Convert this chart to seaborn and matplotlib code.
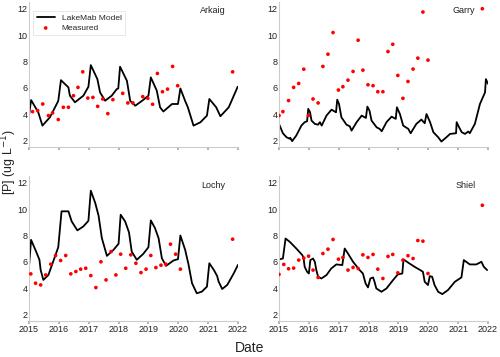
import matplotlib
matplotlib.use("Agg")
import matplotlib.pyplot as plt
import pandas as pd
import seaborn as sns

# model curves (decimal year, [P])
arkaig_model_t = [2015.0, 2015.07, 2015.31, 2015.45, 2015.70, 2015.98, 2016.07, 2016.32, 2016.37,
                  2016.54, 2016.82, 2016.99, 2017.07, 2017.29, 2017.38, 2017.55, 2017.77, 2017.94,
                  2017.99, 2018.05, 2018.28, 2018.39, 2018.56, 2018.78, 2019.0, 2019.08, 2019.28,
                  2019.39, 2019.5, 2019.79, 2019.99, 2020.07, 2020.23, 2020.32, 2020.51, 2020.74,
                  2020.96, 2021.04, 2021.27, 2021.41, 2021.69, 2021.99]
arkaig_model_p = [3.9, 5.07, 4.14, 3.13, 3.76, 5.0, 6.58, 6.03, 5.4,
                  4.9, 5.4, 6.08, 7.72, 6.66, 5.65, 5.02, 5.4, 5.9,
                  5.95, 7.6, 6.53, 5.0, 4.64, 5.0, 5.4, 6.79, 5.78,
                  4.52, 4.2, 4.77, 4.77, 5.95, 5.0, 4.52, 3.13, 3.38,
                  3.89, 5.15, 4.52, 3.84, 4.52, 6.08]

garry_model_t = [2015.0, 2015.13, 2015.25, 2015.36, 2015.38, 2015.44, 2015.58, 2015.75, 2015.86,
                 2015.94, 2015.98, 2016.04, 2016.09, 2016.2, 2016.31, 2016.37, 2016.43, 2016.59,
                 2016.76, 2016.91, 2016.95, 2017.01, 2017.09, 2017.26, 2017.37, 2017.43, 2017.60,
                 2017.77, 2017.91, 2017.96, 2018.03, 2018.1, 2018.27, 2018.37, 2018.44, 2018.6,
                 2018.77, 2018.91, 2018.95, 2019.05, 2019.16, 2019.33, 2019.41, 2019.6, 2019.77,
                 2019.88, 2019.94, 2020.06, 2020.17, 2020.33, 2020.44, 2020.61, 2020.73, 2020.93,
                 2020.95, 2021.03, 2021.12, 2021.23, 2021.34, 2021.39, 2021.56, 2021.73, 2021.90,
                 2021.93, 2022.0]
garry_model_p = [3.26, 2.55, 2.25, 2.13, 2.2, 1.95, 2.38, 3.13, 3.39,
                 3.46, 4.4, 4.14, 3.51, 3.26, 3.2, 3.39, 3.13, 3.89,
                 4.34, 4.14, 5.1, 4.77, 3.76, 3.2, 3.08, 2.75, 3.39,
                 3.89, 3.71, 4.57, 4.27, 3.51, 3.0, 2.88, 2.7, 3.39,
                 3.81, 3.64, 4.52, 4.01, 3.13, 2.88, 2.55, 3.26, 3.59,
                 3.31, 4.01, 3.39, 2.63, 2.25, 1.92, 2.25, 2.5, 2.55,
                 3.39, 3.01, 2.63, 2.5, 2.68, 2.55, 3.26, 4.77, 5.65,
                 6.66, 6.3]

lochy_model_t = [2015.0, 2015.07, 2015.26, 2015.35, 2015.39, 2015.48, 2015.65, 2015.87, 2015.98,
                 2016.09, 2016.32, 2016.43, 2016.62, 2016.82, 2016.99, 2017.07, 2017.22, 2017.33,
                 2017.44, 2017.61, 2017.83, 2018.0, 2018.07, 2018.22, 2018.35, 2018.44, 2018.61,
                 2018.83, 2019.0, 2019.08, 2019.22, 2019.34, 2019.45, 2019.59, 2019.84, 2019.99,
                 2020.07, 2020.23, 2020.34, 2020.46, 2020.62, 2020.79, 2020.96, 2021.04, 2021.19,
                 2021.30, 2021.35, 2021.47, 2021.64, 2021.86, 2022.0]
lochy_model_p = [5.64, 7.67, 6.66, 6.15, 5.38, 4.62, 5.0, 6.4, 7.11,
                 9.84, 9.84, 9.07, 8.39, 8.69, 9.12, 11.41, 10.46, 9.51,
                 7.8, 6.45, 6.91, 7.37, 9.58, 9.07, 8.23, 6.78, 6.15,
                 6.61, 7.11, 9.15, 8.56, 7.8, 6.27, 5.69, 6.1, 6.2,
                 8.0, 6.91, 5.82, 4.37, 3.6, 3.73, 4.11, 5.89, 5.38,
                 4.93, 4.5, 3.93, 4.24, 5.13, 5.77]

shiel_model_t = [2015.0, 2015.13, 2015.22, 2015.36, 2015.58, 2015.78, 2015.82, 2015.86, 2015.94,
                 2016.0, 2016.05, 2016.14, 2016.2, 2016.25, 2016.31, 2016.42, 2016.59, 2016.75,
                 2016.92, 2017.12, 2017.20, 2017.31, 2017.48, 2017.7, 2017.81, 2017.9, 2017.98,
                 2018.06, 2018.15, 2018.2, 2018.26, 2018.43, 2018.6, 2018.82, 2018.98, 2019.13,
                 2019.17, 2019.37, 2019.54, 2019.73, 2019.82, 2019.88, 2019.99, 2020.05, 2020.13,
                 2020.21, 2020.33, 2020.47, 2020.66, 2020.89, 2021.11, 2021.19, 2021.39, 2021.61,
                 2021.78, 2021.86, 2021.97]
shiel_model_p = [6.18, 6.25, 7.77, 7.52, 7.01, 6.51, 6.33, 5.62, 5.24,
                 5.11, 6.13, 6.25, 6.0, 5.37, 4.86, 4.73, 4.99, 5.49,
                 5.8, 5.75, 7.01, 6.63, 6.0, 5.37, 5.11, 4.35, 4.05,
                 4.73, 4.81, 4.48, 3.97, 3.72, 3.97, 4.61, 5.04, 5.11,
                 6.18, 5.87, 5.62, 5.37, 5.24, 4.48, 4.23, 4.91, 4.86,
                 4.23, 3.72, 3.54, 3.85, 4.48, 4.81, 6.13, 5.8, 5.8,
                 6.0, 5.62, 5.37]

# measured samples
arkaig_meas_t = [2015.12, 2015.29, 2015.46, 2015.65, 2015.79, 2015.98, 2016.15, 2016.32, 2016.49,
                 2016.64, 2016.80, 2016.97, 2017.14, 2017.30, 2017.47, 2017.64, 2017.81, 2018.14,
                 2018.31, 2018.48, 2018.81, 2018.98, 2019.14, 2019.30, 2019.47, 2019.64, 2019.81,
                 2019.98, 2021.82]
arkaig_meas_p = [4.19, 4.27, 4.77, 3.89, 4.09, 3.59, 4.52, 4.52, 5.40,
                 6.03, 7.21, 5.22, 5.27, 4.59, 5.15, 4.04, 5.10, 5.58,
                 4.85, 4.85, 5.33, 5.20, 4.75, 7.09, 5.70, 5.90, 7.62,
                 6.16, 7.21]

garry_meas_t = [2015.0, 2015.13, 2015.32, 2015.49, 2015.66, 2015.83, 2015.99, 2016.14, 2016.31,
                2016.47, 2016.64, 2016.81, 2016.99, 2017.14, 2017.31, 2017.48, 2017.65, 2017.81,
                2017.98, 2018.15, 2018.31, 2018.48, 2018.65, 2018.81, 2018.98, 2019.15, 2019.32,
                2019.49, 2019.65, 2019.82, 2019.99, 2021.81]
garry_meas_p = [3.89, 4.19, 5.03, 6.03, 6.33, 7.41, 3.91, 5.15, 4.85,
                7.62, 8.55, 10.19, 5.83, 6.08, 6.58, 7.24, 9.61, 7.34,
                6.23, 6.16, 5.70, 5.70, 8.75, 9.30, 6.94, 5.20, 6.48,
                7.42, 8.25, 11.75, 8.10, 12.0]

lochy_meas_t = [2015.06, 2015.22, 2015.39, 2015.56, 2015.73, 2015.89, 2016.06, 2016.23, 2016.40,
                2016.57, 2016.73, 2016.90, 2017.07, 2017.24, 2017.41, 2017.58, 2017.75, 2017.91,
                2018.07, 2018.24, 2018.41, 2018.58, 2018.75, 2018.92, 2019.08, 2019.25, 2019.42,
                2019.58, 2019.74, 2019.91, 2020.07, 2021.82]
lochy_meas_p = [5.08, 4.37, 4.24, 5.0, 5.82, 6.48, 6.10, 6.48, 5.08,
                5.26, 5.44, 5.51, 4.95, 4.04, 6.0, 4.62, 6.78, 5.0,
                6.58, 5.51, 6.53, 5.89, 5.18, 5.44, 6.48, 5.56, 5.74,
                5.82, 7.34, 6.58, 5.44, 7.72]

shiel_meas_t = [2015.0, 2015.16, 2015.32, 2015.49, 2015.66, 2015.83, 2015.99, 2016.14, 2016.31,
                2016.47, 2016.64, 2016.81, 2016.99, 2017.14, 2017.31, 2017.48, 2017.65, 2017.81,
                2017.98, 2018.15, 2018.31, 2018.48, 2018.65, 2018.81, 2018.98, 2019.15, 2019.32,
                2019.49, 2019.65, 2019.82, 2019.99, 2021.81]
shiel_meas_p = [5.04, 5.80, 5.47, 5.52, 6.13, 6.28, 6.43, 5.37, 4.81,
                6.63, 6.96, 7.70, 6.20, 6.33, 5.37, 5.57, 5.49, 6.53,
                6.33, 6.56, 5.44, 4.73, 6.41, 6.56, 5.16, 6.13, 6.46,
                6.25, 7.62, 7.57, 5.11, 10.30]

lakes = ["Arkaig", "Garry", "Lochy", "Shiel"]
model_t = [arkaig_model_t, garry_model_t, lochy_model_t, shiel_model_t]
model_p = [arkaig_model_p, garry_model_p, lochy_model_p, shiel_model_p]
meas_t = [arkaig_meas_t, garry_meas_t, lochy_meas_t, shiel_meas_t]
meas_p = [arkaig_meas_p, garry_meas_p, lochy_meas_p, shiel_meas_p]
years = [2015, 2016, 2017, 2018, 2019, 2020, 2021, 2022]
y_ticks = [2, 4, 6, 8, 10, 12]

sns.set_theme(style="white")
plt.rcParams["font.family"] = ["Liberation Sans", "DejaVu Sans"]

fig = plt.figure(figsize=(5, 3.57), dpi=100)
boxes = [
    [0.058, 0.588, 0.418, 0.406],
    [0.558, 0.588, 0.418, 0.406],
    [0.058, 0.101, 0.418, 0.405],
    [0.558, 0.101, 0.418, 0.405],
]

for i, lake in enumerate(lakes):
    ax = fig.add_axes(boxes[i])
    mdf = pd.DataFrame({"t": model_t[i], "p": model_p[i]})
    sdf = pd.DataFrame({"t": meas_t[i], "p": meas_p[i]})
    sns.lineplot(data=mdf, x="t", y="p", ax=ax, color="black", lw=1.3,
                 label="LakeMab Model", sort=False)
    sns.scatterplot(data=sdf, x="t", y="p", ax=ax, color="red", s=7,
                    edgecolor="none", label="Measured", zorder=3)
    ax.set_xlim(2015, 2022)
    ax.set_ylim(1.5, 12.5)
    ax.set_xticks(years)
    ax.set_yticks(y_ticks)
    ax.set_xlabel("")
    ax.set_ylabel("")
    for side in ["top", "right"]:
        ax.spines[side].set_visible(False)
    for side in ["left", "bottom"]:
        ax.spines[side].set_color("#cccccc")
        ax.spines[side].set_linewidth(0.8)
    ax.tick_params(axis="both", labelsize=6.5, colors="#222222", pad=1)
    ax.tick_params(axis="x", length=2, color="#aaaaaa", bottom=True)
    ax.tick_params(axis="y", length=0)
    if i < 2:
        ax.set_xticklabels([])
    ax.text(0.94, 0.97, lake, transform=ax.transAxes, ha="right", va="top",
            fontsize=6.5, color="#222222")
    if i == 0:
        leg = ax.legend(loc="upper left", fontsize=6, frameon=True,
                        bbox_to_anchor=(0.0, 0.97), borderpad=0.4,
                        handlelength=2.2, labelspacing=0.3, markerscale=1.0)
        leg.get_frame().set_edgecolor("#dddddd")
        leg.get_frame().set_linewidth(0.6)
        leg.get_frame().set_boxstyle("square", pad=0)
    else:
        ax.get_legend().remove()

fig.text(0.018, 0.546, "[P] (ug L$^{-1}$)", rotation=90, ha="center", va="center",
         fontsize=9, color="#222222")
fig.text(0.5, 0.026, "Date", ha="center", va="center", fontsize=10, color="#222222")

fig.savefig("out.png", dpi=100)
